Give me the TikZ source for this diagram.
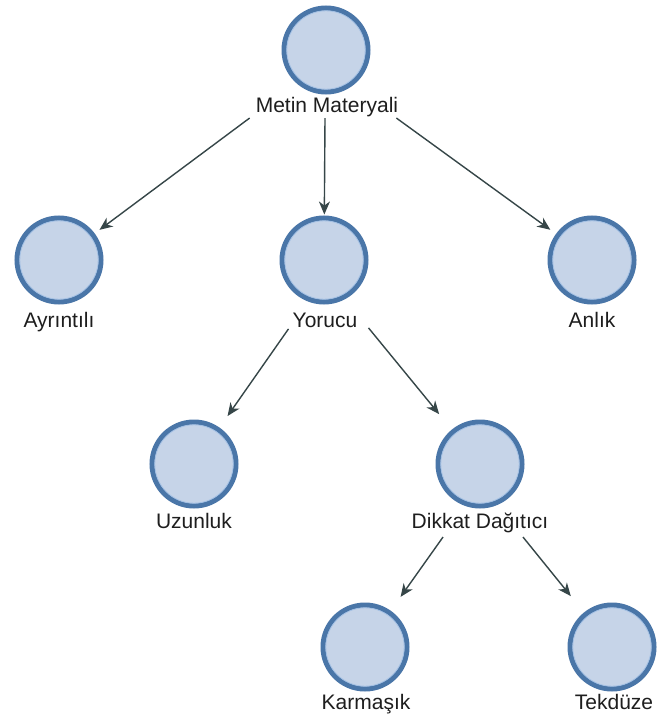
\documentclass[tikz,border=0pt]{standalone}
\usepackage{fontspec}
\setmainfont{Liberation Sans}
\usetikzlibrary{arrows.meta}

\definecolor{ringblue}{HTML}{4A76A8}
\definecolor{innerblue}{HTML}{A3C0E4}
\definecolor{discfill}{HTML}{C6D4E8}
\definecolor{labelgrey}{HTML}{1E1E1E}
\definecolor{edgegrey}{HTML}{364648}

\tikzset{
  disc/.style={circle, minimum size=84pt, inner sep=0pt, fill=discfill,
    draw=ringblue, line width=5pt},
  innerring/.style={draw=innerblue, line width=0.8pt},
  caption/.style={anchor=base, inner sep=0pt, text=labelgrey,
    font=\fontsize{21}{25}\selectfont},
  link/.style={draw=edgegrey, line width=1.4pt,
    -{Stealth[length=13pt, width=11pt, inset=4pt]}},
}

\begin{document}
\begin{tikzpicture}[x=1pt, y=-1pt]
  \useasboundingbox[fill=white] (0,0) rectangle (656,719);

  % discs
  \node[disc] (metin)  at (326,50)  {};
  \node[disc] (ayrin)  at (59,260)  {};
  \node[disc] (yorucu) at (324,260) {};
  \node[disc] (anlik)  at (592,260) {};
  \node[disc] (uzun)   at (194,464) {};
  \node[disc] (dikkat) at (480,464) {};
  \node[disc] (karma)  at (365,647) {};
  \node[disc] (tekdu)  at (612,647) {};

  % thin light inner edge of every disc
  \foreach \d in {metin,ayrin,yorucu,anlik,uzun,dikkat,karma,tekdu}
    \draw[innerring] (\d.center) circle[radius=39.2pt];

  % captions under the discs
  \node[caption] (metinL)  at (327,112.5) {Metin Materyali};
  \node[caption] (ayrinL)  at (59,327.5)  {Ayrıntılı};
  \node[caption] (yorucuL) at (325,327.5) {Yorucu};
  \node[caption] (anlikL)  at (592,327.5) {Anlık};
  \node[caption] (uzunL)   at (194,528.5) {Uzunluk};
  \node[caption] (dikkatL) at (480,528.5) {Dikkat Dağıtıcı};
  \node[caption] (karmaL)  at (366,709.5) {Karmaşık};
  \node[caption] (tekduL)  at (614,709.5) {Tekdüze};

  % connectors
  \draw[link, shorten >=6pt]  ([shift={(-6,1)}]metinL.south west) -- (ayrin);
  \draw[link, shorten >=1pt]  ([shift={(-2,1)}]metinL.south) -- (yorucu);
  \draw[link, shorten >=7pt]  ([shift={(-2,1)}]metinL.south east) -- (anlik);
  \draw[link, shorten >=14pt] ([shift={(-4,1)}]yorucuL.south west) -- (uzun);
  \draw[link, shorten >=20pt] ([shift={(11,0)}]yorucuL.south east) -- (dikkat);
  \draw[link, shorten >=17pt] ([shift={(-37,4)}]dikkatL.south) -- (karma);
  \draw[link, shorten >=21pt] ([shift={(43,4)}]dikkatL.south) -- (tekdu);
\end{tikzpicture}
\end{document}
